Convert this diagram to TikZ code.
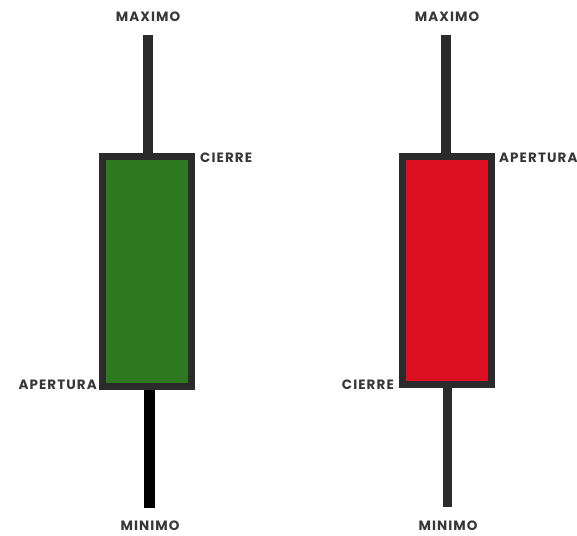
\documentclass[tikz,border=0pt]{standalone}
\usepackage{fontspec}
\setmainfont{Poppins}
\newfontfamily\rotulos[LetterSpace=8]{Poppins}
\usetikzlibrary{positioning}
\definecolor{velaverde}{RGB}{46,120,32}
\definecolor{velaroja}{RGB}{220,16,32}
\definecolor{borde}{RGB}{43,43,43}
\definecolor{texto}{RGB}{55,55,55}
\begin{document}
\begin{tikzpicture}[x=1pt,y=1pt,
  cuerpo/.style={draw=borde, line width=7pt, inner sep=0pt, minimum width=89pt},
  mecha/.style={draw=borde, line width=10pt},
  etiqueta/.style={font=\rotulos\bfseries\fontsize{13.5}{13.5}\selectfont, text=texto, inner sep=0pt}]
  \useasboundingbox (0,0) rectangle (577,535);

  % vela alcista
  \node[cuerpo, fill=velaverde, minimum height=230pt] (verde) at (147,263.5) {};
  \coordinate (maxV) at (148,500);
  \coordinate (minV) at (149,27);
  \draw[mecha] (maxV) -- (maxV |- verde.north);
  \draw[mecha, draw=black, line width=11pt] (minV |- verde.south) -- (minV);
  \node[etiqueta] (tmaxV) at (148,518) {MAXIMO};
  \node[etiqueta] (tminV) at (150,9) {MINIMO};
  \node[etiqueta, anchor=west] (tcieV) at (200,377) {CIERRE};
  \node[etiqueta, anchor=east] (tapeV) at (97,150) {APERTURA};

  % vela bajista
  \node[cuerpo, fill=velaroja, minimum height=228pt] (roja) at (446.5,264.5) {};
  \coordinate (maxR) at (446,500);
  \coordinate (minR) at (447,28);
  \draw[mecha] (maxR) -- (maxR |- roja.north);
  \draw[mecha, line width=9pt] (minR |- roja.south) -- (minR);
  \node[etiqueta] (tmaxR) at (447,518) {MAXIMO};
  \node[etiqueta] (tminR) at (448,9) {MINIMO};
  \node[etiqueta, anchor=west] (tapeR) at (499,377) {APERTURA};
  \node[etiqueta, anchor=east] (tcieR) at (394,150) {CIERRE};
\end{tikzpicture}
\end{document}
